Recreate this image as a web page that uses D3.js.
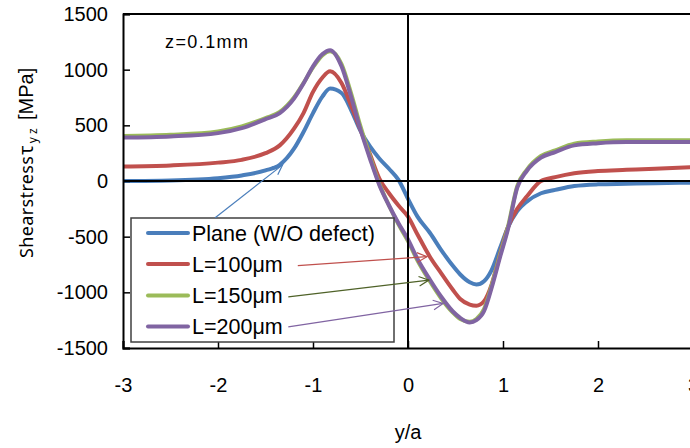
<!DOCTYPE html>
<html>
<head>
<meta charset="utf-8">
<script src="https://cdn.jsdelivr.net/npm/d3@7"></script>
<style>
  html, body { margin: 0; padding: 0; background: #fff; }
  svg { display: block; }
  text { font-family: "Liberation Sans", Arial, sans-serif; fill: #000; }
</style>
</head>
<body>
<svg id="chart" width="690" height="448"></svg>
<script>
// Position along the surface, normalised by the half-contact width a
const yOverA = [-3, -2.5, -2, -1.75, -1.5, -1.35, -1.2, -1.1, -1.0, -0.9, -0.82, -0.7, -0.6, -0.5, -0.4, -0.3, -0.2, -0.1,
  0, 0.1, 0.23, 0.35, 0.47, 0.55, 0.65, 0.72, 0.8, 0.88, 0.97, 1.05, 1.15, 1.25, 1.4, 1.55, 1.75, 2.0, 2.3, 2.6, 3.0];

// Shear stress tau_yz [MPa] at z = 0.1 mm
const plane = [0, 5, 25, 50, 95, 145, 290, 440, 610, 760, 830, 790, 640, 450, 310, 200, 110, 10,
  -160, -320, -465, -620, -760, -840, -910, -930, -900, -800, -600, -420, -270, -185, -110, -80, -45, -30, -25, -20, -15];
const l100 = [130, 140, 165, 190, 250, 320, 470, 610, 800, 930, 985, 880, 680, 460, 240, 20, -110, -220,
  -320, -480, -680, -830, -975, -1060, -1110, -1120, -1080, -930, -650, -420, -250, -140, 0, 35, 70, 90, 100, 110, 125];
const l150 = [405, 415, 445, 490, 565, 620, 750, 880, 1020, 1130, 1165, 1050, 790, 490, 220, -30, -220, -390,
  -540, -715, -900, -1055, -1180, -1240, -1265, -1240, -1150, -940, -660, -420, -45, 100, 225, 275, 335, 355, 365, 365, 365];
const l200 = [390, 400, 430, 475, 555, 610, 740, 875, 1030, 1140, 1175, 1030, 760, 460, 200, -40, -220, -380,
  -525, -700, -885, -1040, -1170, -1230, -1270, -1250, -1170, -960, -680, -440, -60, 90, 210, 260, 320, 340, 350, 350, 350];

const seriesNames = ["Plane (W/O defect)", "L=100\u03bcm", "L=150\u03bcm", "L=200\u03bcm"];
const seriesValues = [plane, l100, l150, l200];
const seriesColors = ["#4a7ebb", "#c0504d", "#9bbb59", "#8064a2"];

const xTicks = [-3, -2, -1, 0, 1, 2, 3];
const yTicks = [-1500, -1000, -500, 0, 500, 1000, 1500];

const svg = d3.select("#chart");
const plot = { left: 123, right: 693, top: 14, bottom: 348 };

const x = d3.scaleLinear().domain([-3, 3]).range([plot.left, plot.right]);
const y = d3.scaleLinear().domain([-1500, 1500]).range([plot.bottom, plot.top]);

// Series curves
const line = d3.line()
  .x(d => x(d[0]))
  .y(d => y(d[1]))
  .curve(d3.curveMonotoneX);

seriesValues.forEach((vals, i) => {
  svg.append("path")
    .datum(yOverA.map((u, k) => [u, vals[k]]))
    .attr("fill", "none")
    .attr("stroke", seriesColors[i])
    .attr("stroke-width", 4)
    .attr("stroke-linejoin", "round")
    .attr("d", line);
});

// Zero lines through the origin
svg.append("line")
  .attr("x1", plot.left).attr("x2", plot.right)
  .attr("y1", y(0)).attr("y2", y(0))
  .attr("stroke", "#000").attr("stroke-width", 2);
svg.append("line")
  .attr("x1", x(0)).attr("x2", x(0))
  .attr("y1", plot.top).attr("y2", plot.bottom)
  .attr("stroke", "#000").attr("stroke-width", 2);

// Frame: top edge
svg.append("line")
  .attr("x1", plot.left).attr("x2", plot.right)
  .attr("y1", plot.top).attr("y2", plot.top)
  .attr("stroke", "#000").attr("stroke-width", 2);

// Left axis with inward ticks
const yAxis = d3.axisLeft(y).tickValues(yTicks).tickSize(-7).tickPadding(15).tickFormat(d => String(d));
const gy = svg.append("g").attr("transform", `translate(${plot.left},0)`).call(yAxis);
gy.select(".domain").attr("stroke", "#000").attr("stroke-width", 2);
gy.selectAll(".tick line").attr("stroke", "#000").attr("stroke-width", 1.5);
gy.selectAll(".tick text").attr("font-size", 20).attr("font-family", "Liberation Sans, Arial, sans-serif");

// Bottom axis with inward ticks
const xAxis = d3.axisBottom(x).tickValues(xTicks).tickSize(-7).tickPadding(30).tickFormat(d => String(d));
const gx = svg.append("g").attr("transform", `translate(0,${plot.bottom})`).call(xAxis);
gx.select(".domain").attr("stroke", "#000").attr("stroke-width", 2);
gx.selectAll(".tick line").attr("stroke", "#000").attr("stroke-width", 1.5);
gx.selectAll(".tick text").attr("font-size", 20).attr("font-family", "Liberation Sans, Arial, sans-serif");

// Axis titles
svg.append("text")
  .attr("x", x(0)).attr("y", 439)
  .attr("text-anchor", "middle")
  .attr("font-size", 20)
  .text("y/a");

const yTitle = svg.append("g").attr("transform", "translate(33,258) rotate(-90)");
const yt = yTitle.append("text").attr("x", 0).attr("y", 0);
yt.append("tspan").attr("font-family", "Noto Sans, sans-serif").attr("font-size", 18)
  .attr("textLength", 102).attr("lengthAdjust", "spacing").text("Shearstress");
yt.append("tspan").attr("font-family", "Noto Sans, sans-serif").attr("font-size", 19).attr("dx", 1).text("\u03c4");
yt.append("tspan").attr("font-family", "Noto Sans, sans-serif").attr("font-size", 12).attr("dy", 4).attr("dx", 2).text("y z");
yTitle.append("text").attr("x", 138).attr("y", 0).attr("font-size", 20).text("[MPa]");

// Condition label
svg.append("text")
  .attr("x", 165).attr("y", 48)
  .attr("font-size", 18)
  .attr("textLength", 83).attr("lengthAdjust", "spacing")
  .text("z=0.1mm");

// Legend
const legend = svg.append("g");
legend.append("rect")
  .attr("x", 131).attr("y", 218)
  .attr("width", 263).attr("height", 124)
  .attr("fill", "#fff")
  .attr("stroke", "#404040").attr("stroke-width", 1.5);
const legendRows = [233, 264, 295.5, 326.5];
seriesNames.forEach((name, i) => {
  legend.append("line")
    .attr("x1", 148).attr("x2", 188)
    .attr("y1", legendRows[i]).attr("y2", legendRows[i])
    .attr("stroke", seriesColors[i]).attr("stroke-width", 4)
    .attr("stroke-linecap", "round");
  legend.append("text")
    .attr("x", 192).attr("y", legendRows[i] + 7.5)
    .attr("font-size", 21.5)
    .text(name);
});

// Pointer arrows from the legend to each curve
const arrows = [
  { color: "#4a7ebb", from: [-2.03, -330], to: [-1.32, 145] },
  { color: "#c0504d", from: [-1.16, -760], to: [0.2, -680] },
  { color: "#4f6228", from: [-1.26, -1040], to: [0.22, -890] },
  { color: "#8064a2", from: [-1.26, -1310], to: [0.37, -1100] }
];
arrows.forEach(a => {
  const x1 = x(a.from[0]), y1 = y(a.from[1]);
  const x2 = x(a.to[0]), y2 = y(a.to[1]);
  const ang = Math.atan2(y2 - y1, x2 - x1);
  const h = 11, spread = 0.45;
  svg.append("line")
    .attr("x1", x1).attr("y1", y1).attr("x2", x2).attr("y2", y2)
    .attr("stroke", a.color).attr("stroke-width", 1.2);
  svg.append("path")
    .attr("d", `M${x2 - h * Math.cos(ang - spread)},${y2 - h * Math.sin(ang - spread)}L${x2},${y2}L${x2 - h * Math.cos(ang + spread)},${y2 - h * Math.sin(ang + spread)}`)
    .attr("fill", "none")
    .attr("stroke", a.color).attr("stroke-width", 1.2);
});
</script>
</body>
</html>
